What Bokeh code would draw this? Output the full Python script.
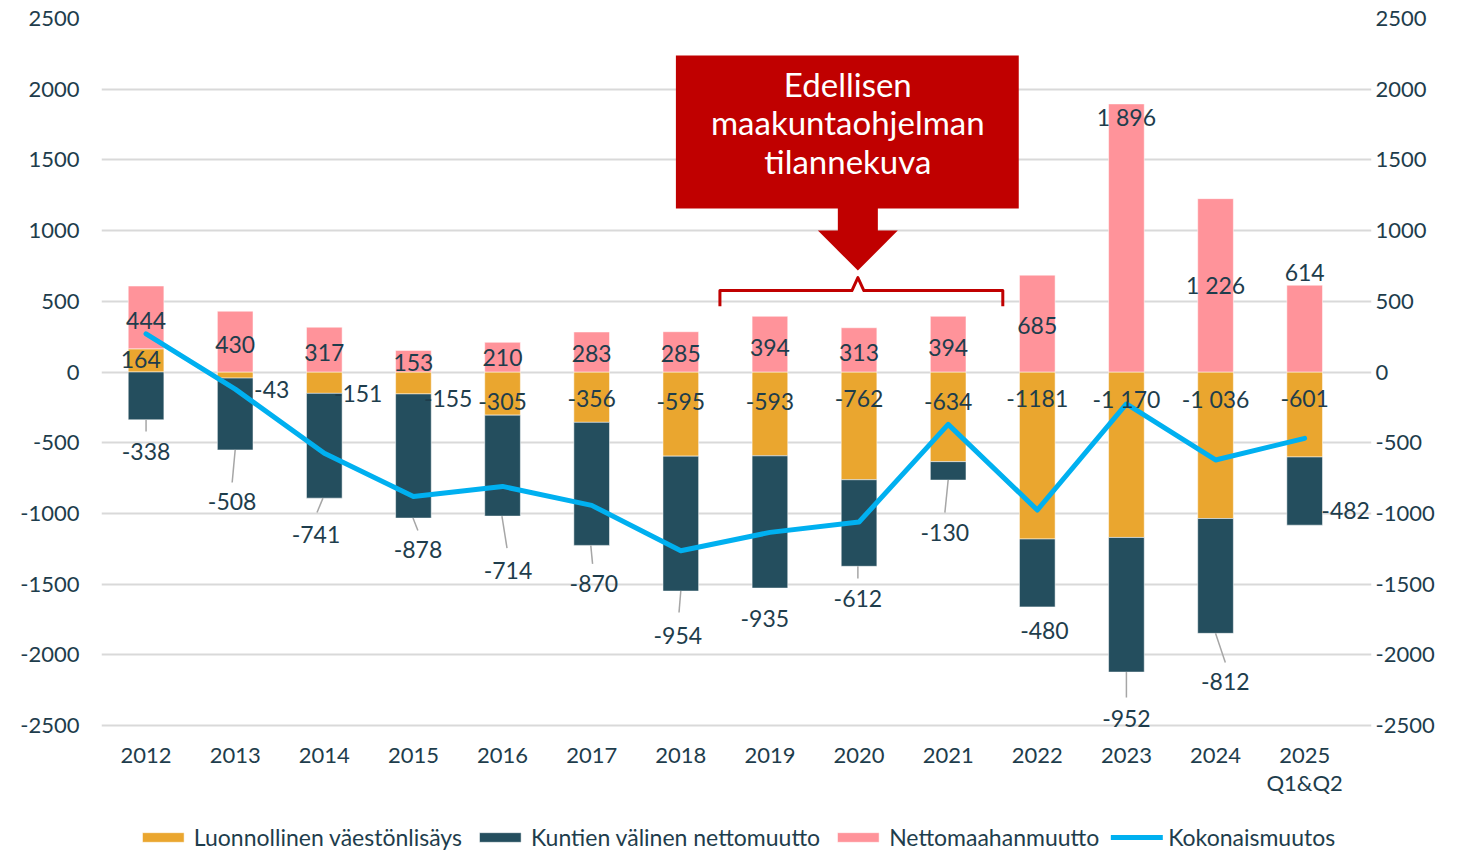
from bokeh.plotting import figure
from bokeh.models import (ColumnDataSource, Range1d, LinearAxis, FixedTicker, PrintfTickFormatter,
                          Legend, LegendItem, LabelSet)
from bokeh.embed import file_html
from bokeh.resources import INLINE
from bokeh.core.properties import value

# ---------------- data ----------------
years = ["2012", "2013", "2014", "2015", "2016", "2017", "2018", "2019", "2020", "2021",
         "2022", "2023", "2024", "2025\nQ1&Q2"]
natural = [164, -43, -151, -155, -305, -356, -595, -593, -762, -634, -1181, -1170, -1036, -601]
internal = [-338, -508, -741, -878, -714, -870, -954, -935, -612, -130, -480, -952, -812, -482]
immigration = [444, 430, 317, 153, 210, 283, 285, 394, 313, 394, 685, 1896, 1226, 614]
total = [270, -121, -575, -880, -809, -943, -1264, -1134, -1061, -370, -976, -226, -622, -469]

natural_labels = ["164", "-43", "-151", "-155", "-305", "-356", "-595", "-593", "-762", "-634",
                  "-1181", "-1 170", "-1 036", "-601"]
internal_labels = ["-338", "-508", "-741", "-878", "-714", "-870", "-954", "-935", "-612", "-130",
                   "-480", "-952", "-812", "-482"]
immigration_labels = ["444", "430", "317", "153", "210", "283", "285", "394", "313", "394",
                      "685", "1 896", "1 226", "614"]

series_names = ["Luonnollinen väestönlisäys", "Kuntien välinen nettomuutto",
                "Nettomaahanmuutto", "Kokonaismuutos"]
annotation_lines = ["Edellisen", "maakuntaohjelman", "tilannekuva"]

# ---------------- label placement (data units) ----------------
nat_lx = [-0.06, 1.41, 2.38, 3.39, 4.0, 5.0, 6.0, 7.0, 8.0, 9.0, 10.0, 11.0, 12.0, 13.0]
nat_ly = [88, -124, -152, -187, -205, -187, -205, -205, -190, -205, -190, -190, -190, -190]
imm_ly = [364, 194, 138, 67, 103, 131, 131, 173, 138, 173, 329, 1800, 612, 704]
int_lx = [0.0, 0.966, 1.907, 3.051, 4.061, 5.025, 5.967, 6.943, 7.987, 8.963, 10.08, 11.0, 12.11, 13.46]
int_ly = [-562, -916, -1149, -1255, -1404, -1496, -1863, -1743, -1602, -1135, -1828, -2450, -2189, -979]
# leader line ends (start is at bar bottom)
lead_idx = [0, 1, 2, 3, 4, 5, 6, 8, 9, 11, 12]
lead_x1 = [0.0, 0.966, 1.918, 3.05, 4.05, 5.01, 5.98, 7.987, 8.963, 11.0, 12.11]
lead_y1 = [-421, -781, -994, -1121, -1245, -1357, -1701, -1460, -994, -2302, -2054]
lead_x0 = [0.0, 1.0, 1.985, 2.995, 3.993, 4.99, 6.0, 7.987, 9.0, 11.0, 12.0]
# category label rows (below the -2500 grid line)
cat_row_y = [-2712, -2903]

ORANGE = "#EAA62F"
DARK = "#244E5E"
PINK = "#FF939A"
BLUE = "#00B0F0"
RED = "#C00000"
TXT = "#1E3D4C"
FONT = "Lato"
TICK_SIZE = "22px"
LABEL_SIZE = "23px"

n = len(years)
xs = list(range(n))

# stacking: positives up from 0, negatives down from 0
pos_base = [0.0] * n
neg_base = [0.0] * n

def stack(vals):
    b, t = [], []
    for i, v in enumerate(vals):
        if v >= 0:
            b.append(pos_base[i]); t.append(pos_base[i] + v); pos_base[i] += v
        else:
            b.append(neg_base[i]); t.append(neg_base[i] + v); neg_base[i] += v
    return b, t

nb, nt = stack(natural)
ib, it = stack(internal)
mb, mt = stack(immigration)

YTICKS = list(range(-2500, 2501, 500))

# frame extends below the value axis to host category labels and legend
p = figure(frame_width=1270, frame_height=835, output_backend="svg", toolbar_location=None,
           x_range=Range1d(-0.5, n - 0.25), y_range=Range1d(-3405, 2500),
           min_border_left=101, min_border_right=0, min_border_top=18, min_border_bottom=0)
p.outline_line_color = None
p.xgrid.grid_line_color = None
p.ygrid.grid_line_color = "#D9D9D9"
p.ygrid.grid_line_width = 2
p.ygrid.ticker = FixedTicker(ticks=YTICKS)
p.xaxis.visible = False

yax = p.yaxis[0]
yax.axis_line_color = None
yax.major_tick_line_color = None
yax.minor_tick_line_color = None
yax.major_tick_out = 0
yax.major_tick_in = 0
yax.minor_tick_out = 0
yax.major_label_text_color = TXT
yax.major_label_text_font = FONT
yax.major_label_text_font_size = TICK_SIZE
yax.ticker = FixedTicker(ticks=YTICKS)
yax.formatter = PrintfTickFormatter(format="%d")
yax.major_label_standoff = 22

p.extra_y_ranges = {"r": Range1d(-3405, 2500)}
rax = LinearAxis(y_range_name="r", ticker=FixedTicker(ticks=YTICKS),
                 formatter=PrintfTickFormatter(format="%d"))
rax.axis_line_color = None
rax.major_tick_line_color = None
rax.minor_tick_line_color = None
rax.major_tick_out = 0
rax.minor_tick_out = 0
rax.major_label_text_color = TXT
rax.major_label_text_font = FONT
rax.major_label_text_font_size = TICK_SIZE
rax.major_label_standoff = 4
p.add_layout(rax, "right")

W = 0.4
r_nat = p.vbar(x=xs, bottom=nb, top=nt, width=W, fill_color=ORANGE, line_color="white", line_alpha=0.5, line_width=1)
r_int = p.vbar(x=xs, bottom=ib, top=it, width=W, fill_color=DARK, line_color="white", line_alpha=0.5, line_width=1)
r_imm = p.vbar(x=xs, bottom=mb, top=mt, width=W, fill_color=PINK, line_color="white", line_alpha=0.5, line_width=1)

# leader lines
p.segment(x0=lead_x0, y0=[it[i] for i in lead_idx], x1=lead_x1, y1=lead_y1,
          line_color="#A6A6A6", line_width=1.5)

r_tot = p.line(x=xs, y=total, line_color=BLUE, line_width=5, line_join="round", line_cap="round")

def labels(x, y, t, size=LABEL_SIZE):
    src = ColumnDataSource(dict(x=x, y=y, t=t))
    p.add_layout(LabelSet(x="x", y="y", text="t", source=src, text_color=TXT, text_font=value(FONT),
                          text_font_size=size, text_align="center", text_baseline="middle"))

labels(xs, imm_ly, immigration_labels)
labels(nat_lx, nat_ly, natural_labels)
labels(int_lx, int_ly, internal_labels)

# category labels (one row per text line)
cx, cy, ct = [], [], []
for i, s in enumerate(years):
    for k, part in enumerate(s.split("\n")):
        cx.append(xs[i]); cy.append(cat_row_y[k]); ct.append(part)
labels(cx, cy, ct, TICK_SIZE)

# ---------------- annotation callout ----------------
p.quad(left=5.945, right=9.792, top=2238, bottom=1156, fill_color=RED, line_color=None)
p.quad(left=7.762, right=8.211, top=1160, bottom=995, fill_color=RED, line_color=None)
p.patch(x=[7.538, 8.435, 7.987], y=[1000, 1000, 718], fill_color=RED, line_color=None)
p.line(x=[6.439, 6.439, 7.92, 7.987, 8.054, 9.613, 9.613],
       y=[465, 576, 576, 668, 576, 576, 465], line_color=RED, line_width=3, line_join="round")
ann_y = [2040, 1771, 1495]
p.text(x=[7.874] * 3, y=ann_y, text=annotation_lines, text_color="white", text_font=value(FONT),
       text_font_size="33px", text_align="center", text_baseline="middle")

# ---------------- legend ----------------
legend = Legend(items=[LegendItem(label=series_names[0], renderers=[r_nat]),
                       LegendItem(label=series_names[1], renderers=[r_int]),
                       LegendItem(label=series_names[2], renderers=[r_imm]),
                       LegendItem(label=series_names[3], renderers=[r_tot])],
                orientation="horizontal", location="bottom_center",
                glyph_width=52, glyph_height=12, label_standoff=5, spacing=12,
                padding=0, margin=2, border_line_color=None, background_fill_alpha=0,
                label_text_font=FONT, label_text_font_size="23px", label_text_color=TXT)
p.add_layout(legend, "center")

open("out.html", "w").write(file_html(p, INLINE))
